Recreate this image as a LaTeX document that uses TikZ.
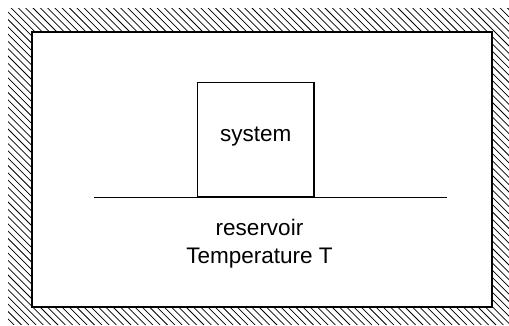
\documentclass[tikz,border=0pt]{standalone}
\usepackage{fontspec}
\setmainfont{Liberation Sans}
\begin{document}
\begin{tikzpicture}[x=1pt,y=1pt,
  hatchline/.style={line width=0.75pt},
  wall/.style={line width=2pt},
  thin/.style={line width=1.3pt},
  lbl/.style={font=\fontsize{22.5}{28}\selectfont, inner sep=0pt}]
\useasboundingbox (0,0) rectangle (509,325);
% hatched wall
\begin{scope}[even odd rule]
  \clip (8,0) rectangle (509,317) (31.5,18.5) rectangle (492,293.5);
  \foreach \a in {-340,-332.7,...,520}
    \draw[hatchline] (\a,325) -- (\a+325,0);
\end{scope}
\draw[wall] (31.5,18.5) rectangle (492,293.5);
% ground line
\coordinate (gl) at (94,127.5);
\coordinate (gr) at (446.5,127.5);
\draw[thin] (gl) -- (gr);
% system box
\node[draw, thin, minimum width=116.7pt, minimum height=114.2pt, anchor=south, inner sep=0pt] (box) at (255.7,127.5) {};
\node[lbl, anchor=base] (sys) at (255.7,183.3) {system};
\node[lbl, anchor=base] (res) at (259.5,90) {reservoir};
\node[lbl, anchor=base] (temp) at (259.5,61.7) {Temperature T};
\end{tikzpicture}
\end{document}
